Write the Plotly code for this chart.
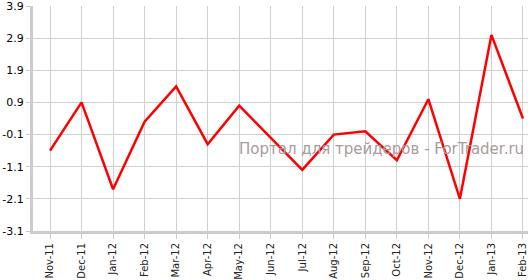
import plotly.graph_objects as go

months = ["Nov-11", "Dec-11", "Jan-12", "Feb-12", "Mar-12", "Apr-12", "May-12", "Jun-12",
          "Jul-12", "Aug-12", "Sep-12", "Oct-12", "Nov-12", "Dec-12", "Jan-13", "Feb-13"]
values = [-0.6, 0.9, -1.8, 0.3, 1.4, -0.4, 0.8, -0.2,
          -1.2, -0.1, 0.0, -0.9, 1.0, -2.1, 3.0, 0.4]
y_ticks = [3.9, 2.9, 1.9, 0.9, -0.1, -1.1, -2.1, -3.1]
watermark = "Портал для трейдеров - ForTrader.ru"

fig = go.Figure()
fig.add_trace(go.Scatter(
    x=list(range(len(months))), y=values, mode="lines",
    line=dict(color="#ff0000", width=2.5), hoverinfo="skip"))

fig.update_layout(
    width=528, height=280,
    margin=dict(l=33, r=0, t=6, b=39),
    paper_bgcolor="white", plot_bgcolor="white",
    showlegend=False,
    font=dict(family="DejaVu Sans, Verdana, sans-serif", size=11, color="#000"),
    xaxis=dict(
        tickmode="array", tickvals=list(range(len(months))), ticktext=months,
        range=[-0.54, 15.16], tickangle=-90,
        showgrid=True, gridcolor="#d0d0d0", gridwidth=1,
        showline=True, linecolor="#cccccc", linewidth=3,
        ticks="outside", ticklen=5, tickcolor="#cccccc",
        ticklabeloverflow="allow",
        tickfont=dict(size=10, color="#222"), zeroline=False),
    yaxis=dict(
        tickmode="array", tickvals=y_ticks, ticktext=[f"{v:.1f}" for v in y_ticks],
        range=[-3.1, 3.9],
        showgrid=True, gridcolor="#d0d0d0", gridwidth=1,
        showline=True, linecolor="#cccccc", linewidth=3,
        ticks="outside", ticklen=4, tickcolor="#cccccc",
        ticklabeloverflow="allow",
        tickfont=dict(size=11, color="#000"), zeroline=False),
    annotations=[dict(
        text=watermark, xref="paper", yref="paper", x=0.995, y=0.365,
        xanchor="right", yanchor="middle", showarrow=False,
        font=dict(family="DejaVu Sans, sans-serif", size=15, color="#a89c9c"))],
)

fig.write_html("out.html")
